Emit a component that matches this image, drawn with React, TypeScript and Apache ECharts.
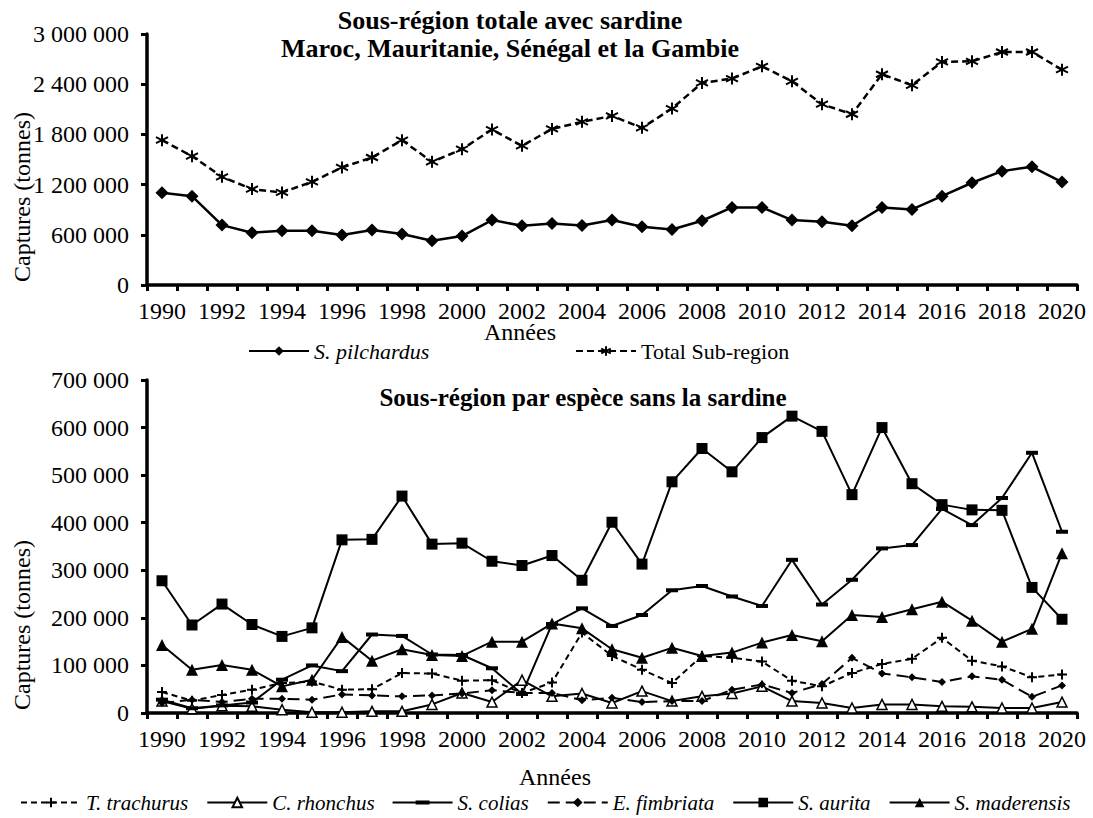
import React, { useEffect, useRef } from 'react';
import * as echarts from 'echarts';

const years = ['1990','1991','1992','1993','1994','1995','1996','1997','1998','1999','2000','2001','2002','2003','2004','2005','2006','2007','2008','2009','2010','2011','2012','2013','2014','2015','2016','2017','2018','2019','2020'];

const pilchardus = [1102000, 1062000, 716000, 625000, 649000, 649000, 597000, 657000, 609000, 529000, 585000, 776000, 708000, 736000, 712000, 776000, 696000, 664000, 768000, 927000, 927000, 776000, 756000, 708000, 927000, 903000, 1062000, 1222000, 1361000, 1413000, 1230000];
const totalSubRegion = [1731000, 1540000, 1293000, 1146000, 1106000, 1233000, 1405000, 1524000, 1731000, 1472000, 1623000, 1858000, 1663000, 1865000, 1950000, 2021000, 1878000, 2109000, 2415000, 2467000, 2614000, 2435000, 2161000, 2041000, 2519000, 2387000, 2666000, 2674000, 2785000, 2785000, 2574000];

const trachurus = [44000, 26000, 38000, 49000, 63000, 66000, 49000, 50000, 84000, 83000, 68000, 69000, 42000, 64000, 169000, 120000, 91000, 63000, 120000, 116000, 108000, 68000, 56000, 84000, 103000, 114000, 158000, 110000, 98000, 75000, 81000];
const rhonchus = [25000, 9000, 15000, 14000, 7000, 1500, 1500, 3500, 3500, 18000, 42000, 23000, 69000, 35000, 41000, 21000, 46000, 25000, 35000, 41000, 56000, 25000, 21000, 10500, 18000, 18000, 14000, 13000, 10500, 10500, 23000];
const colias = [28000, 10000, 16000, 22000, 70000, 100000, 88000, 165000, 162000, 123000, 122000, 94000, 40000, 187000, 220000, 183000, 206000, 258000, 267000, 245000, 225000, 322000, 228000, 280000, 346000, 353000, 429000, 395000, 452000, 547000, 381000];
const fimbriata = [21000, 28000, 23000, 30000, 30000, 28000, 39000, 37000, 35000, 37000, 41000, 48000, 42000, 42000, 27000, 32000, 23000, 25000, 25000, 49000, 60000, 42000, 61000, 116000, 83000, 75000, 65000, 77000, 70000, 34000, 58000];
const aurita = [278000, 185000, 229000, 186000, 161000, 179000, 364000, 365000, 456000, 355000, 357000, 319000, 310000, 331000, 279000, 401000, 313000, 486000, 556000, 507000, 579000, 624000, 592000, 459000, 600000, 482000, 438000, 427000, 426000, 264000, 197000];
const maderensis = [143000, 91000, 101000, 91000, 56000, 70000, 160000, 110000, 134000, 122000, 120000, 150000, 150000, 188000, 178000, 134000, 116000, 137000, 120000, 127000, 148000, 164000, 151000, 206000, 202000, 218000, 234000, 194000, 150000, 177000, 336000];

const FONT = 'Liberation Serif, serif';
const fmt = (v: number) => String(v).replace(/\B(?=(\d{3})+(?!\d))/g, ' ');

const PLUS = 'path://M5,0 L5,10 M0,5 L10,5';
const ASTER = 'path://M5,0 L5,10 M0.67,2.5 L9.33,7.5 M0.67,7.5 L9.33,2.5';
const COLIAS_ICON = 'path://M0,5 L23,5 L23,4 L37,4 L37,5 L60,5 L60,7 L37,7 L37,8 L23,8 L23,7 L0,7 Z';

export default function App() {
  const ref = useRef<HTMLDivElement>(null);
  useEffect(() => {
    const chart = echarts.init(ref.current!, null, { renderer: 'svg' });
    const axisLineStyle = { color: '#000', width: 3.5 };
    const xAxisBase = (gridIndex: number) => ({
      type: 'category',
      gridIndex,
      data: years,
      boundaryGap: true,
      axisLine: { show: true, lineStyle: axisLineStyle },
      axisTick: { show: true, interval: 0, length: 6, inside: false, lineStyle: { color: '#000', width: 3 } },
      axisLabel: { interval: 1, color: '#000', fontFamily: FONT, fontSize: 24, margin: 14 },
      splitLine: { show: false },
    });
    const yAxisBase = (gridIndex: number, max: number, interval: number) => ({
      type: 'value',
      gridIndex,
      min: 0,
      max,
      interval,
      axisLine: { show: true, lineStyle: axisLineStyle },
      axisTick: { show: true, length: 6, inside: false, lineStyle: { color: '#000', width: 3 } },
      axisLabel: { color: '#000', fontFamily: FONT, fontSize: 24, margin: 18, formatter: fmt },
      splitLine: { show: false },
    });
    const lineSeries = (name: string, data: number[], gi: number, extra: any) => ({
      name,
      type: 'line',
      xAxisIndex: gi,
      yAxisIndex: gi,
      data,
      ...extra,
    });
    const legendText = (italic: boolean, size: number) => ({
      fontFamily: FONT,
      fontSize: size,
      fontStyle: italic ? 'italic' : 'normal',
      color: '#000',
    });
    const txt = (text: string, x: number, y: number, size: number, bold: boolean, rotation = 0) => ({
      type: 'text', x, y, rotation,
      style: {
        text, fill: '#000', align: 'center', verticalAlign: 'middle',
        fontFamily: FONT, fontSize: size, fontWeight: bold ? 'bold' : 'normal',
      },
    });

    const option: any = {
      animation: false,
      backgroundColor: '#fff',
      textStyle: { fontFamily: FONT },
      grid: [
        { left: 147, right: 16, top: 34, height: 251 },
        { left: 147, right: 16, top: 380, height: 333 },
      ],
      xAxis: [xAxisBase(0), xAxisBase(1)],
      yAxis: [yAxisBase(0, 3000000, 600000), yAxisBase(1, 700000, 100000)],
      legend: [
        { data: ['S. pilchardus'], left: 243, top: 335, itemWidth: 60, itemHeight: 12, selectedMode: false, textStyle: legendText(true, 22) },
        { data: ['Total Sub-region'], left: 570, top: 335, itemWidth: 60, itemHeight: 12, selectedMode: false, textStyle: legendText(false, 22) },
        {
          data: ['T. trachurus', 'C. rhonchus', { name: 'S. colias', icon: COLIAS_ICON }, 'E. fimbriata', 'S. aurita', 'S. maderensis'],
          left: 20, top: 792, width: 1073, itemWidth: 60, itemHeight: 12, itemGap: 18, padding: 0,
          selectedMode: false, textStyle: legendText(true, 21),
        },
      ],
      graphic: [
        txt('Sous-région totale avec sardine', 510, 20, 26, true),
        txt('Maroc, Mauritanie, Sénégal et la Gambie', 510, 48, 26, true),
        txt('Sous-région par espèce sans la sardine', 583, 397, 25, true),
        txt('Années', 520, 332, 24, false),
        txt('Années', 555, 777, 24, false),
        txt('Captures (tonnes)', 22, 197, 24, false, Math.PI / 2),
        txt('Captures (tonnes)', 22, 625, 24, false, Math.PI / 2),
      ],
      series: [
        lineSeries('S. pilchardus', pilchardus, 0, {
          symbol: 'diamond', symbolSize: 13,
          lineStyle: { color: '#000', width: 2.5 },
          itemStyle: { color: '#000' },
        }),
        lineSeries('Total Sub-region', totalSubRegion, 0, {
          symbol: ASTER, symbolSize: 12,
          lineStyle: { color: '#000', width: 2.5, type: [7, 4] },
          itemStyle: { color: '#000', borderColor: '#000', borderWidth: 2 },
        }),
        lineSeries('T. trachurus', trachurus, 1, {
          symbol: PLUS, symbolSize: 10,
          lineStyle: { color: '#000', width: 2, type: [6, 4] },
          itemStyle: { color: '#000', borderColor: '#000', borderWidth: 2 },
        }),
        lineSeries('C. rhonchus', rhonchus, 1, {
          symbol: 'triangle', symbolSize: 10,
          lineStyle: { color: '#000', width: 2 },
          itemStyle: { color: '#fff', borderColor: '#000', borderWidth: 1.5 },
        }),
        lineSeries('S. colias', colias, 1, {
          symbol: 'rect', symbolSize: [12, 4],
          lineStyle: { color: '#000', width: 2 },
          itemStyle: { color: '#000' },
        }),
        lineSeries('E. fimbriata', fimbriata, 1, {
          symbol: 'diamond', symbolSize: 8,
          lineStyle: { color: '#000', width: 2, type: [12, 6] },
          itemStyle: { color: '#000' },
        }),
        lineSeries('S. aurita', aurita, 1, {
          symbol: 'rect', symbolSize: 11,
          lineStyle: { color: '#000', width: 2 },
          itemStyle: { color: '#000' },
        }),
        lineSeries('S. maderensis', maderensis, 1, {
          symbol: 'triangle', symbolSize: 12,
          lineStyle: { color: '#000', width: 2 },
          itemStyle: { color: '#000' },
        }),
      ],
    };
    chart.setOption(option);
    return () => chart.dispose();
  }, []);
  return <div ref={ref} style={{ position: 'fixed', left: 0, top: 0, width: 1093, height: 818 }} />;
}
